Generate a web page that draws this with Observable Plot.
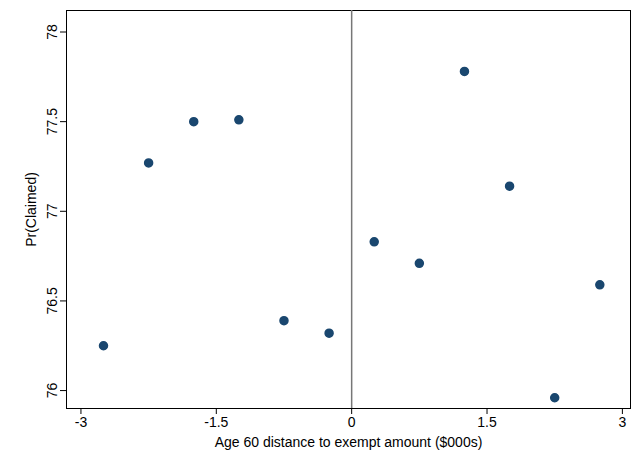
<!DOCTYPE html>
<html>
<head>
<meta charset="utf-8">
<script src="https://cdn.jsdelivr.net/npm/d3@7"></script>
<script src="https://cdn.jsdelivr.net/npm/@observablehq/plot@0.6"></script>
<style>
body { margin: 0; background: #fff; }
</style>
</head>
<body>
<div id="chart"></div>
<script>
const distance = [-2.75, -2.25, -1.75, -1.25, -0.75, -0.25, 0.25, 0.75, 1.25, 1.75, 2.25, 2.75];
const claimed = [76.25, 77.27, 77.50, 77.51, 76.39, 76.32, 76.83, 76.71, 77.78, 77.14, 75.96, 76.59];
const xTicks = [-3, -1.5, 0, 1.5, 3];
const yTicks = [76, 76.5, 77, 77.5, 78];

const data = distance.map((d, i) => ({x: d, y: claimed[i]}));
const plain = (d) => String(d); // Stata-style labels: "-3", "76.5"

const chart = Plot.plot({
    width: 632,
    height: 466,
    marginLeft: 66,
    marginRight: 2,
    marginTop: 10,
    marginBottom: 58,
    style: {fontFamily: "Liberation Sans, Arial, sans-serif", fontSize: "14px", color: "#000"},
    x: {domain: [-3.16, 3.09]},
    y: {domain: [75.9, 78.12]},
    marks: [
        Plot.frame({stroke: "#000"}),
        Plot.ruleX([0], {stroke: "#777", strokeWidth: 1.5}),
        Plot.axisX(xTicks, {
            ticks: xTicks,
            tickFormat: plain,
            tickSize: 6,
            tickPadding: 3,
            fontSize: 14,
            label: "Age 60 distance to exempt amount ($000s)",
            labelAnchor: "center",
            labelArrow: "none",
            labelOffset: 38,
        }),
        Plot.axisY(yTicks, {
            ticks: yTicks,
            tickFormat: plain,
            tickSize: 6,
            tickPadding: 4,
            tickRotate: -90,
            fontSize: 14,
            textAnchor: "middle",
            label: "Pr(Claimed)",
            labelAnchor: "center",
            labelArrow: "none",
            labelOffset: 40,
        }),
        Plot.dot(data, {x: "x", y: "y", r: 4, fill: "#1a476f", stroke: "#1a476f"}),
    ],
});
document.getElementById("chart").append(chart);
</script>
</body>
</html>
